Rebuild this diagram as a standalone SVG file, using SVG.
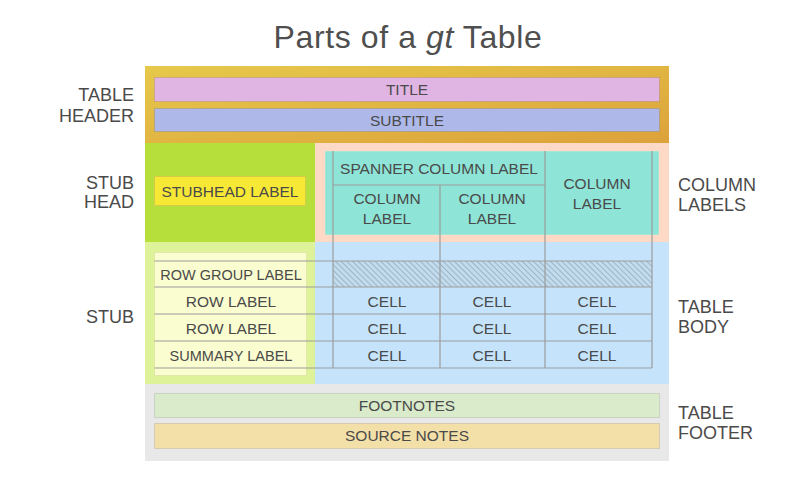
<svg xmlns="http://www.w3.org/2000/svg" width="809" height="489" viewBox="0 0 809 489">
<defs>
<linearGradient id="hdrGrad" x1="0" y1="0" x2="1" y2="1">
<stop offset="0" stop-color="#E6C94B"/>
<stop offset="1" stop-color="#DCA23A"/>
</linearGradient>
<pattern id="hatch" patternUnits="userSpaceOnUse" width="4" height="4" patternTransform="rotate(-45)">
<rect width="4" height="4" fill="#C2DCEE"/>
<line x1="0.5" y1="0" x2="0.5" y2="4" stroke="#93A9BA" stroke-width="0.8"/>
</pattern>
</defs>
<style>
.t{font-family:"Liberation Sans",Arial,sans-serif;fill:#4A4A4A;font-size:15.5px;text-anchor:middle}
.s{font-size:14.5px}
.side{font-family:"Liberation Sans",Arial,sans-serif;fill:#4A4A4A;font-size:18px}
.r{text-anchor:end}
.grid{stroke:#9C9C9C;stroke-width:1.2;fill:none}
.bar{stroke:rgba(0,0,0,0.1);stroke-width:1}
</style>
<rect width="809" height="489" fill="#FFFFFF"/>
<text x="408" y="48" font-family="'Liberation Sans',Arial,sans-serif" font-size="32" fill="#4F4F4F" text-anchor="middle" letter-spacing="0.6">Parts of a <tspan font-style="italic">gt</tspan> Table</text>

<g id="table-header">
<rect x="145" y="66" width="524" height="77" fill="url(#hdrGrad)"/>
<rect class="bar" x="154.5" y="77.5" width="505" height="24" fill="#E0B4E3"/>
<text class="t" x="407" y="95">TITLE</text>
<rect class="bar" x="154.5" y="108.5" width="505" height="23" fill="#AEB8E9"/>
<text class="t" x="407" y="125.5">SUBTITLE</text>
</g>

<g id="stub-head">
<rect x="145" y="143" width="170" height="99" fill="#B7DF3B"/>
<rect x="154.5" y="176.5" width="151" height="29" fill="#F8E836" stroke="#D5CB45" stroke-width="1"/>
<text class="t" x="230" y="197" font-size="16.5">STUBHEAD LABEL</text>
</g>

<g id="column-labels">
<rect x="315" y="143" width="354" height="99" fill="#FED9C6"/>
<rect x="325.5" y="151.5" width="333" height="83" fill="#8EE5D7" stroke="#A6E6D8" stroke-width="1"/>
<text class="t" x="439" y="173.5">SPANNER COLUMN LABEL</text>
<text class="t" x="387" y="203.5">COLUMN</text>
<text class="t" x="387" y="223.5">LABEL</text>
<text class="t" x="492" y="203.5">COLUMN</text>
<text class="t" x="492" y="223.5">LABEL</text>
<text class="t" x="597" y="189">COLUMN</text>
<text class="t" x="597" y="209">LABEL</text>
</g>

<g id="stub">
<rect x="145" y="242" width="170" height="142" fill="#DEF29A"/>
<rect x="154.5" y="252.5" width="152" height="123" fill="#FAFDD0" stroke="#E3E8A8" stroke-width="1"/>
<text class="t s" x="231" y="280">ROW GROUP LABEL</text>
<text class="t" x="231" y="306.5">ROW LABEL</text>
<text class="t" x="231" y="333.5">ROW LABEL</text>
<text class="t s" x="231" y="360.5">SUMMARY LABEL</text>
</g>

<g id="table-body">
<rect x="315" y="242" width="354" height="142" fill="#C5E4FC"/>
<rect x="333" y="261" width="319" height="26" fill="url(#hatch)"/>
<text class="t" x="387" y="306.5">CELL</text>
<text class="t" x="492" y="306.5">CELL</text>
<text class="t" x="597" y="306.5">CELL</text>
<text class="t" x="387" y="333.5">CELL</text>
<text class="t" x="492" y="333.5">CELL</text>
<text class="t" x="597" y="333.5">CELL</text>
<text class="t" x="387" y="360.5">CELL</text>
<text class="t" x="492" y="360.5">CELL</text>
<text class="t" x="597" y="360.5">CELL</text>
</g>

<g id="table-footer">
<rect x="145" y="384" width="524" height="77" fill="#E8E8E8"/>
<rect class="bar" x="154.5" y="393.5" width="505" height="24" fill="#D9EBCB"/>
<text class="t" x="407" y="411">FOOTNOTES</text>
<rect class="bar" x="154.5" y="423.5" width="505" height="25" fill="#F3E0A8"/>
<text class="t" x="407" y="441">SOURCE NOTES</text>
</g>

<g id="grid-lines">
<path class="grid" d="M333,151 V368 M440,185 V368 M545,151 V368 M652,151 V368 M333,185 H545 M154.5,261 H652 M154.5,287 H652 M154.5,314 H652 M154.5,341 H652 M154.5,368 H652"/>
</g>

<g id="side-labels">
<text class="side r" x="134" y="101">TABLE</text>
<text class="side r" x="134" y="122">HEADER</text>
<text class="side r" x="134" y="189">STUB</text>
<text class="side r" x="134" y="208">HEAD</text>
<text class="side r" x="134" y="323">STUB</text>
<text class="side" x="678" y="191">COLUMN</text>
<text class="side" x="678" y="211">LABELS</text>
<text class="side" x="678" y="313">TABLE</text>
<text class="side" x="678" y="333">BODY</text>
<text class="side" x="678" y="419">TABLE</text>
<text class="side" x="678" y="439">FOOTER</text>
</g>
</svg>
